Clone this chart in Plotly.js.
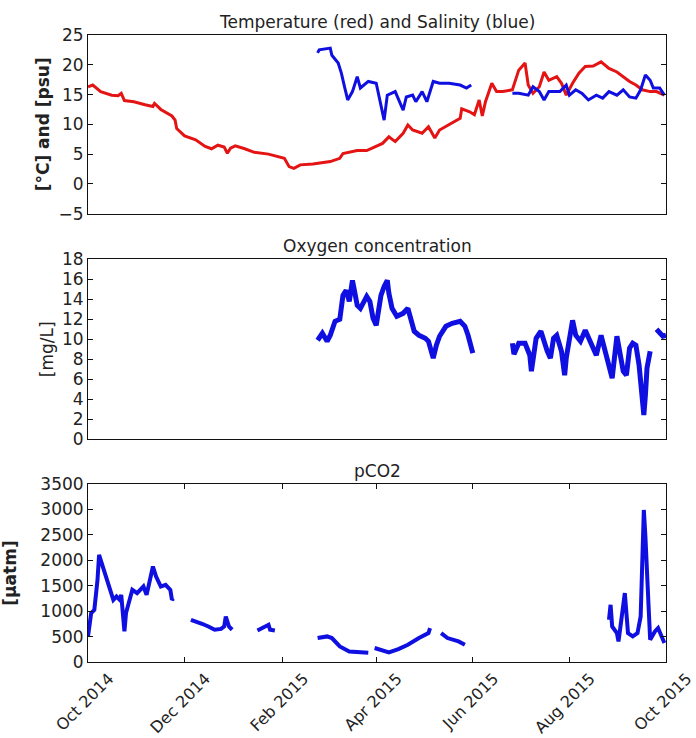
<!DOCTYPE html>
<html><head><meta charset="utf-8">
<script src="https://cdn.plot.ly/plotly-3.0.1.min.js"></script>
<style>html,body{margin:0;padding:0;background:#fff}#chart{width:696px;height:738px}</style>
</head><body><div id="chart"></div>
<script>
// ---- Temperature (red) ----
const tempDates = ['2014-10-01','2014-10-04','2014-10-09','2014-10-16','2014-10-20','2014-10-22','2014-10-24','2014-10-30',
 '2014-11-06','2014-11-11','2014-11-12','2014-11-16','2014-11-23','2014-11-25','2014-11-26','2014-12-01','2014-12-08',
 '2014-12-14','2014-12-18','2014-12-22','2014-12-26','2014-12-28','2014-12-30','2015-01-02','2015-01-08','2015-01-14',
 '2015-01-23','2015-01-29','2015-02-02','2015-02-05','2015-02-08','2015-02-12','2015-02-20','2015-03-03','2015-03-09',
 '2015-03-11','2015-03-20','2015-03-26','2015-04-01','2015-04-05','2015-04-09','2015-04-13','2015-04-18','2015-04-21',
 '2015-04-24','2015-04-30','2015-05-04','2015-05-08','2015-05-11','2015-05-17','2015-05-24','2015-05-25','2015-05-30',
 '2015-06-02','2015-06-05','2015-06-07','2015-06-09','2015-06-13','2015-06-16','2015-06-20','2015-06-26','2015-06-30',
 '2015-07-04','2015-07-06','2015-07-09','2015-07-13','2015-07-16','2015-07-19','2015-07-24','2015-07-27','2015-07-30',
 '2015-08-03','2015-08-07','2015-08-11','2015-08-16','2015-08-21','2015-08-26','2015-08-31','2015-09-04','2015-09-08',
 '2015-09-12','2015-09-16','2015-09-21','2015-09-25','2015-09-30'];
const tempValues = [16.3,16.6,15.5,14.9,14.8,15.2,14.0,13.8,
 13.3,13.0,13.5,12.5,11.4,10.7,9.3,8.05,7.4,
 6.3,5.9,6.5,6.2,5.15,6.0,6.4,5.9,5.3,
 5.0,4.6,4.3,2.9,2.6,3.2,3.35,3.75,4.3,
 5.1,5.6,5.6,6.3,6.8,7.9,7.1,8.5,9.9,
 9.05,8.5,9.6,7.7,9.05,9.9,11.0,12.6,12.1,
 11.6,14.1,11.4,13.8,16.9,15.5,15.5,15.8,19.1,
 20.3,16.6,15.2,16.3,18.8,17.4,18.0,16.9,14.9,
 16.9,18.6,19.7,19.8,20.5,19.4,18.8,18.0,17.2,
 16.6,15.8,15.5,15.5,14.9];

// ---- Salinity (blue) ----
const salDates = ['2015-02-23','2015-02-24','2015-03-03','2015-03-04','2015-03-08','2015-03-10','2015-03-12','2015-03-14',
 '2015-03-17','2015-03-20','2015-03-22','2015-03-27','2015-04-01','2015-04-03','2015-04-05','2015-04-06','2015-04-08',
 '2015-04-13','2015-04-18','2015-04-20','2015-04-24','2015-04-26','2015-04-30','2015-05-03','2015-05-07','2015-05-11',
 '2015-05-17','2015-05-24','2015-05-28','2015-05-31','2015-06-12',
 '2015-06-26','2015-06-30','2015-07-06','2015-07-09','2015-07-13','2015-07-16','2015-07-19','2015-07-26','2015-07-30',
 '2015-08-01','2015-08-05','2015-08-09','2015-08-13','2015-08-18','2015-08-22','2015-08-26','2015-08-31','2015-09-04',
 '2015-09-08','2015-09-12','2015-09-15','2015-09-18','2015-09-21','2015-09-23','2015-09-27','2015-09-30'];
const salValues = [22.0,22.5,22.8,21.6,20.3,18.6,16.3,14.1,
 15.5,18.0,16.1,17.2,16.9,14.6,12.1,10.7,14.9,
 15.5,12.4,14.6,14.9,13.8,15.5,13.8,17.2,16.9,
 16.9,16.6,16.1,16.6,null,
 15.2,15.2,14.9,16.3,15.5,14.1,15.5,15.5,16.6,
 14.9,15.8,15.2,14.1,14.9,14.4,15.5,14.9,15.8,
 14.6,14.4,15.8,18.3,17.4,16.1,16.1,14.9];

// ---- Oxygen concentration ----
const oxyDates = ['2015-02-23','2015-02-26','2015-03-01','2015-03-03','2015-03-06','2015-03-09','2015-03-11','2015-03-13',
 '2015-03-15','2015-03-17','2015-03-18','2015-03-20','2015-03-22','2015-03-26','2015-03-28','2015-03-30','2015-04-01',
 '2015-04-04','2015-04-06','2015-04-08','2015-04-09','2015-04-11','2015-04-14','2015-04-18','2015-04-21','2015-04-23',
 '2015-04-25','2015-04-28','2015-05-02','2015-05-04','2015-05-07','2015-05-09','2015-05-11','2015-05-15','2015-05-19',
 '2015-05-24','2015-05-27','2015-05-29','2015-05-31','2015-06-01','2015-06-12',
 '2015-06-26','2015-06-27','2015-06-30','2015-07-04','2015-07-07','2015-07-08','2015-07-11','2015-07-14','2015-07-18',
 '2015-07-20','2015-07-22','2015-07-24','2015-07-27','2015-07-29','2015-07-30','2015-08-01','2015-08-03','2015-08-05',
 '2015-08-08','2015-08-11','2015-08-15','2015-08-18','2015-08-21','2015-08-23','2015-08-25','2015-08-28','2015-08-31',
 '2015-09-02','2015-09-04','2015-09-06','2015-09-08','2015-09-10','2015-09-12','2015-09-14','2015-09-16','2015-09-17',
 '2015-09-18','2015-09-19','2015-09-21','2015-09-23',
 '2015-09-25','2015-09-27','2015-09-29','2015-10-01'];
const oxyValues = [9.9,10.6,9.8,10.4,11.8,12.0,14.4,14.9,
 13.8,15.9,15.1,13.4,13.1,14.3,13.8,12.1,11.4,
 14.4,15.3,15.9,14.6,13.1,12.3,12.6,13.1,12.1,
 10.8,10.4,10.1,9.8,8.1,9.4,10.3,11.3,11.6,
 11.8,11.3,10.4,9.1,8.6,null,
 9.6,8.5,9.6,9.6,8.4,6.8,10.1,10.8,8.8,
 8.1,10.1,10.4,8.8,6.4,8.1,10.4,11.9,10.4,
 9.8,10.9,9.4,8.4,10.4,9.1,7.8,6.1,10.3,
 8.4,6.8,6.4,9.1,9.6,9.4,7.4,4.4,2.4,
 4.4,7.1,8.8,null,
 11.0,10.6,10.3,10.4];

// ---- pCO2 ----
const co2Dates = ['2014-10-01','2014-10-03','2014-10-05','2014-10-06','2014-10-07','2014-10-08','2014-10-09','2014-10-11',
 '2014-10-14','2014-10-15','2014-10-17','2014-10-19','2014-10-21','2014-10-22','2014-10-24','2014-10-25','2014-10-27',
 '2014-10-29','2014-11-01','2014-11-05','2014-11-07','2014-11-09','2014-11-11','2014-11-13','2014-11-16','2014-11-19',
 '2014-11-22','2014-11-23','2014-11-24','2014-11-29',
 '2014-12-05','2014-12-08','2014-12-12','2014-12-16','2014-12-20','2014-12-24','2014-12-26','2014-12-27','2014-12-29',
 '2014-12-31','2015-01-08',
 '2015-01-16','2015-01-19','2015-01-23','2015-01-24','2015-01-27','2015-02-10',
 '2015-02-23','2015-03-01','2015-03-04','2015-03-09','2015-03-15','2015-03-21','2015-03-26','2015-03-27','2015-03-29',
 '2015-03-31','2015-04-05','2015-04-09','2015-04-15','2015-04-21','2015-04-28','2015-05-04','2015-05-05','2015-05-08',
 '2015-05-12','2015-05-16','2015-05-23','2015-05-27','2015-07-15',
 '2015-08-26','2015-08-27','2015-08-28','2015-08-31','2015-09-01','2015-09-03','2015-09-04','2015-09-05','2015-09-06',
 '2015-09-07','2015-09-10','2015-09-13','2015-09-15','2015-09-16','2015-09-17','2015-09-18','2015-09-19','2015-09-20',
 '2015-09-21','2015-09-24','2015-09-26','2015-09-28','2015-09-30'];
const co2Values = [503,962,1027,1256,1615,2106,2008,1812,
 1551,1419,1223,1288,1223,1321,601,962,1223,
 1419,1354,1484,1321,1615,1877,1680,1484,1517,
 1419,1223,1250,null,
 830,800,752,699,634,650,699,895,699,
 634,null,
 620,667,732,634,620,null,
 471,503,470,306,208,189,189,180,null,
 275,228,189,255,340,471,569,667,null,
 569,471,405,340,null,
 830,1125,699,569,405,895,1092,1354,962,
 569,503,569,895,1812,2990,2466,1484,1092,
 438,600,667,536,373];

// ---- Axis ticks ----
const tickDates = ['2014-10-01','2014-12-01','2015-02-01','2015-04-01','2015-06-01','2015-08-01','2015-10-01'];
const tickLabels = ['Oct 2014','Dec 2014','Feb 2015','Apr 2015','Jun 2015','Aug 2015','Oct 2015'];
const tempTicks = [-5,0,5,10,15,20,25];
const oxyTicks = [0,2,4,6,8,10,12,14,16,18];
const co2Ticks = [0,500,1000,1500,2000,2500,3000,3500];

const RED = 'rgb(228,20,20)';
const BLUE = 'rgb(15,15,225)';

const traces = [
  {x: tempDates, y: tempValues, xaxis:'x', yaxis:'y', mode:'lines', line:{color:RED, width:3}, connectgaps:false},
  {x: salDates, y: salValues, xaxis:'x', yaxis:'y', mode:'lines', line:{color:BLUE, width:3}, connectgaps:false},
  {x: oxyDates, y: oxyValues, xaxis:'x2', yaxis:'y2', mode:'lines', line:{color:BLUE, width:5}, connectgaps:false},
  {x: co2Dates, y: co2Values, xaxis:'x3', yaxis:'y3', mode:'lines', line:{color:BLUE, width:4}, connectgaps:false}
];

const xRange = ['2014-10-01','2015-10-01'];
function xAx(anchor, showTicks) {
  const a = {type:'date', range:xRange, anchor:anchor, showline:true, linecolor:'#111', linewidth:1,
    mirror: showTicks ? 'allticks' : true, showgrid:false, zeroline:false, automargin:false};
  if (showTicks) {
    Object.assign(a, {ticks:'inside', ticklen:5, tickcolor:'#111', tickvals:tickDates, ticktext:tickLabels,
      tickangle:-45, tickfont:{size:16}, ticklabelshift:21, ticklabeloverflow:'allow'});
  } else {
    Object.assign(a, {ticks:'', showticklabels:false});
  }
  return a;
}
function yAx(domain, range, tv, title, bold, standoff) {
  return {domain:domain, range:range, tickvals:tv, showline:true, linecolor:'#111', linewidth:1,
    mirror:'allticks', ticks:'inside', ticklen:5, tickcolor:'#111', showgrid:false, zeroline:false,
    tickfont:{size:17}, automargin:true,
    title:{text:title, standoff:standoff, font:{size:17, weight: bold ? 'bold' : 'normal'}}};
}

const y1 = yAx([0.715,1], [-5,25], tempTicks, '[°C] and [psu]', true, 4); y1.anchor='x';
const y2 = yAx([0.3557,0.642], [0,18], oxyTicks, '[mg/L]', false, 4); y2.anchor='x2';
const y3 = yAx([0,0.2839], [0,3500], co2Ticks, '[µatm]', true, 20); y3.anchor='x3';

function ttl(text, y) {
  return {text:text, xref:'paper', yref:'paper', x:0.5, y:y, xanchor:'center', yanchor:'bottom',
    showarrow:false, font:{size:17, color:'#222'}, yshift:1};
}

const layout = {
  width:696, height:738,
  margin:{l:88, r:30, t:35, b:76, autoexpand:false},
  paper_bgcolor:'#fff', plot_bgcolor:'#fff',
  font:{family:'DejaVu Sans, sans-serif', color:'#222', size:17},
  showlegend:false,
  xaxis: xAx('y', false),
  xaxis2: xAx('y2', false),
  xaxis3: xAx('y3', true),
  yaxis: y1, yaxis2: y2, yaxis3: y3,
  annotations: [
    ttl('Temperature (red) and Salinity (blue)', 1),
    ttl('Oxygen concentration', 0.642),
    ttl('pCO2', 0.2839)
  ]
};

Plotly.newPlot('chart', traces, layout, {staticPlot:true, displayModeBar:false});
</script></body></html>
